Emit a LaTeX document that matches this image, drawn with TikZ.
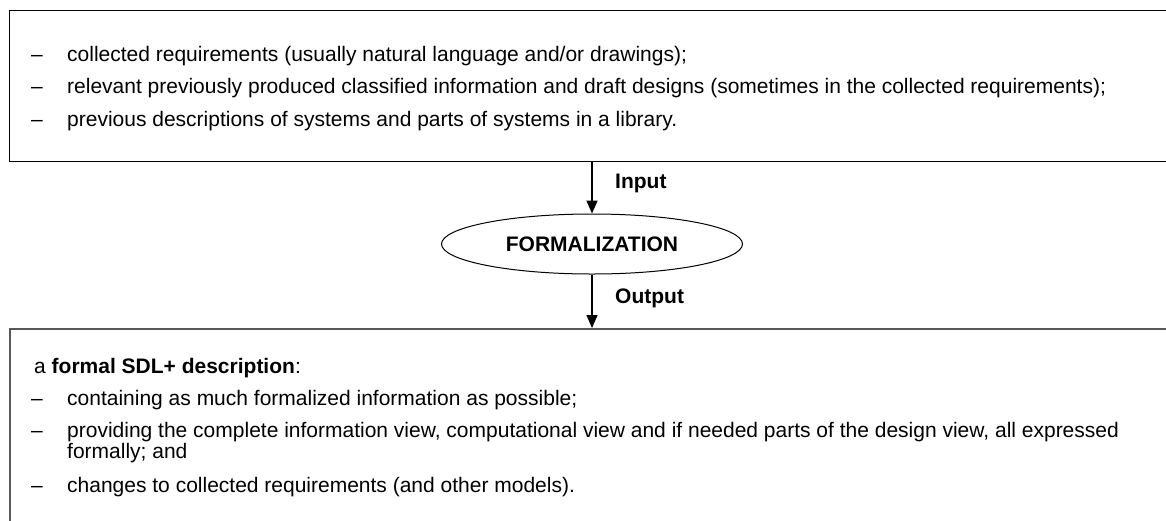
\documentclass[tikz,border=0pt]{standalone}
\usepackage{fontspec}
\setmainfont{Liberation Sans}
\usetikzlibrary{shapes.geometric,arrows.meta}
\begin{document}
\begin{tikzpicture}[x=1pt,y=1pt,
  txt/.style={anchor=base west,inner sep=0pt,font=\fontsize{21}{22}\selectfont},
  lbl/.style={anchor=west,inner sep=0pt,font=\fontsize{21}{22}\selectfont\bfseries},
  boxA/.style={draw=black,line width=1.3pt,rectangle,anchor=north west,inner sep=0pt},
  boxB/.style={draw=black!65,line width=2pt,rectangle,anchor=north west,inner sep=0pt},
  proc/.style={draw=black,line width=1pt,ellipse,minimum width=301pt,minimum height=60pt,inner sep=0pt,font=\fontsize{21}{22}\selectfont\bfseries},
  flow/.style={-{Triangle[length=13pt,width=11pt]},line width=1.5pt}]
\useasboundingbox (0,0) rectangle (1166,-520);
\clip (0,0) rectangle (1166,-520);
\node[boxA,minimum width=1180pt,minimum height=151pt] (in) at (9,-10) {};
\node[boxB,minimum width=1180pt,minimum height=230pt] (out) at (9,-328) {};
\node[proc] (form) at (592,-244) {FORMALIZATION};
% input texts
\node[txt] (d1) at (31,-61) {--};
\node[txt] (t1) at (67,-61) {collected requirements (usually natural language and/or drawings);};
\node[txt] (d2) at (31,-93) {--};
\node[txt] (t2) at (67,-93) {relevant previously produced classified information and draft designs (sometimes in the collected requirements);};
\node[txt] (d3) at (31,-126) {--};
\node[txt] (t3) at (67,-126) {previous descriptions of systems and parts of systems in a library.};
% output texts
\node[txt] (h) at (34,-373) {a \textbf{formal SDL+ description}:};
\node[txt] (e1) at (31,-405) {--};
\node[txt] (u1) at (67,-405) {containing as much formalized information as possible;};
\node[txt] (e2) at (31,-437) {--};
\node[txt] (u2) at (67,-437) {providing the complete information view, computational view and if needed parts of the design view, all expressed};
\node[txt] (u2b) at (67,-458) {formally; and};
\node[txt] (e3) at (31,-492) {--};
\node[txt] (u3) at (67,-492) {changes to collected requirements (and other models).};
% arrows
\draw[flow] (form.north |- in.south) -- (form.north);
\draw[flow] (form.south) -- (form.south |- out.north);
\node[lbl] (li) at (615,-183) {Input};
\node[lbl] (lo) at (615,-298) {Output};
\end{tikzpicture}
\end{document}
